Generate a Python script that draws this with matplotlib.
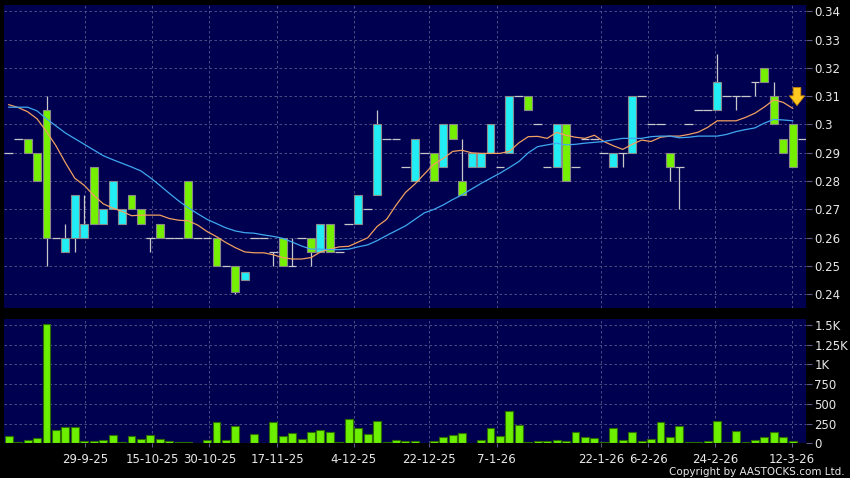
import matplotlib
matplotlib.use('Agg')
import matplotlib.pyplot as plt
import numpy as np

# ---------------- data ----------------
opens = [0.29, 0.295, 0.295, 0.29, 0.305, 0.26, 0.255, 0.26, 0.26, 0.285,
         0.265, 0.27, 0.265, 0.275, 0.27, 0.26, 0.265, 0.26, 0.26, 0.28,
         0.26, 0.26, 0.26, 0.25, 0.25, 0.245, 0.26, 0.26, 0.255, 0.26,
         0.25, 0.26, 0.26, 0.255, 0.265, 0.255, 0.265, 0.265, 0.27, 0.275,
         0.295, 0.295, 0.285, 0.28, 0.29, 0.29, 0.285, 0.30, 0.28, 0.285,
         0.285, 0.29, 0.285, 0.29, 0.31, 0.31, 0.30, 0.285, 0.285, 0.30,
         0.285, 0.295, 0.295, 0.29, 0.285, 0.29, 0.29, 0.31, 0.30, 0.30,
         0.29, 0.285, 0.30, 0.305, 0.305, 0.305, 0.31, 0.31, 0.31, 0.315,
         0.32, 0.31, 0.295, 0.30, 0.295]
highs = [0.29, 0.295, 0.295, 0.29, 0.31, 0.26, 0.265, 0.275, 0.275, 0.285,
         0.27, 0.28, 0.27, 0.275, 0.27, 0.26, 0.265, 0.26, 0.26, 0.28,
         0.26, 0.26, 0.26, 0.25, 0.25, 0.248, 0.26, 0.26, 0.255, 0.26,
         0.26, 0.26, 0.26, 0.265, 0.265, 0.255, 0.265, 0.275, 0.27, 0.305,
         0.295, 0.295, 0.285, 0.295, 0.29, 0.29, 0.30, 0.30, 0.295, 0.29,
         0.29, 0.30, 0.285, 0.31, 0.31, 0.31, 0.30, 0.285, 0.30, 0.30,
         0.285, 0.295, 0.295, 0.29, 0.29, 0.29, 0.31, 0.31, 0.30, 0.30,
         0.29, 0.285, 0.30, 0.305, 0.305, 0.325, 0.31, 0.31, 0.31, 0.315,
         0.32, 0.315, 0.295, 0.30, 0.295]
lows = [0.29, 0.295, 0.29, 0.28, 0.25, 0.26, 0.255, 0.255, 0.26, 0.265,
        0.265, 0.27, 0.265, 0.27, 0.265, 0.255, 0.26, 0.26, 0.26, 0.26,
        0.26, 0.26, 0.25, 0.25, 0.24, 0.245, 0.26, 0.26, 0.25, 0.25,
        0.25, 0.26, 0.25, 0.255, 0.255, 0.255, 0.265, 0.265, 0.27, 0.275,
        0.295, 0.295, 0.285, 0.28, 0.29, 0.28, 0.285, 0.295, 0.275, 0.285,
        0.285, 0.29, 0.285, 0.29, 0.31, 0.305, 0.30, 0.285, 0.285, 0.28,
        0.285, 0.295, 0.295, 0.29, 0.285, 0.285, 0.29, 0.31, 0.30, 0.30,
        0.28, 0.27, 0.30, 0.305, 0.305, 0.305, 0.31, 0.305, 0.31, 0.31,
        0.315, 0.30, 0.29, 0.285, 0.295]
closes = [0.29, 0.295, 0.29, 0.28, 0.26, 0.26, 0.26, 0.275, 0.265, 0.265,
          0.27, 0.28, 0.27, 0.27, 0.265, 0.26, 0.26, 0.26, 0.26, 0.26,
          0.26, 0.26, 0.25, 0.25, 0.241, 0.248, 0.26, 0.26, 0.255, 0.25,
          0.25, 0.26, 0.255, 0.265, 0.255, 0.255, 0.265, 0.275, 0.27, 0.30,
          0.295, 0.295, 0.285, 0.295, 0.29, 0.28, 0.30, 0.295, 0.275, 0.29,
          0.29, 0.30, 0.285, 0.31, 0.31, 0.305, 0.30, 0.285, 0.30, 0.28,
          0.285, 0.295, 0.295, 0.29, 0.29, 0.29, 0.31, 0.31, 0.30, 0.30,
          0.285, 0.285, 0.30, 0.305, 0.305, 0.315, 0.31, 0.31, 0.31, 0.315,
          0.315, 0.30, 0.29, 0.285, 0.295]
volumes = [94, 17, 47, 64, 1510, 171, 209, 205, 30, 30,
           43, 111, 17, 94, 56, 111, 56, 34, 17, 13,
           4, 43, 273, 43, 213, 2, 120, 0, 269, 90,
           132, 60, 145, 167, 137, 17, 307, 192, 120, 286,
           21, 43, 30, 34, 9, 34, 81, 102, 128, 9,
           43, 192, 94, 414, 230, 17, 30, 30, 43, 34,
           145, 85, 73, 21, 196, 43, 141, 30, 51, 273,
           81, 218, 17, 13, 30, 282, 17, 158, 13, 43,
           77, 137, 77, 30, 0]
ma_short = [0.3070, 0.3060, 0.3045, 0.3020, 0.2975, 0.2925, 0.2865, 0.2810, 0.2785, 0.2750,
            0.2720, 0.2705, 0.2693, 0.2678, 0.2680, 0.2680, 0.2680, 0.2668, 0.2662, 0.2660,
            0.2645, 0.2622, 0.2604, 0.2583, 0.2565, 0.2550, 0.2547, 0.2547, 0.2540, 0.2530,
            0.2525, 0.2525, 0.2530, 0.2550, 0.2560, 0.2568, 0.2570, 0.2585, 0.2600, 0.2640,
            0.2665, 0.2715, 0.2760, 0.2790, 0.2825, 0.2860, 0.2880, 0.2905, 0.2909, 0.2900,
            0.2898, 0.2898, 0.2898, 0.2905, 0.2935, 0.2957, 0.2958, 0.2951, 0.2972, 0.2962,
            0.2955, 0.2951, 0.2962, 0.2940, 0.2925, 0.2912, 0.2930, 0.2945, 0.2940, 0.2955,
            0.2959, 0.2959, 0.2965, 0.2973, 0.2990, 0.3013, 0.3013, 0.3013, 0.3025, 0.3040,
            0.3062, 0.3087, 0.3078, 0.3057]
ma_long = [0.3061, 0.3061, 0.3061, 0.3048, 0.3020, 0.2995, 0.2970, 0.2950, 0.2930, 0.2910,
           0.2890, 0.2876, 0.2863, 0.2850, 0.2836, 0.2812, 0.2785, 0.2757, 0.2730, 0.2706,
           0.2685, 0.2665, 0.2650, 0.2635, 0.2624, 0.2618, 0.2616, 0.2610, 0.2605, 0.2598,
           0.2585, 0.2571, 0.2560, 0.2560, 0.2558, 0.2558, 0.2560, 0.2568, 0.2575, 0.2590,
           0.2608, 0.2625, 0.2642, 0.2665, 0.2688, 0.2700, 0.2716, 0.2735, 0.2752, 0.2772,
           0.2792, 0.2810, 0.2828, 0.2848, 0.2869, 0.2900, 0.2922, 0.2928, 0.2934, 0.2928,
           0.2930, 0.2934, 0.2937, 0.2940, 0.2946, 0.2951, 0.2951, 0.2951, 0.2957, 0.2959,
           0.2959, 0.2953, 0.2955, 0.2959, 0.2959, 0.2959, 0.2965, 0.2975, 0.2982, 0.2988,
           0.3005, 0.3018, 0.3016, 0.3013]
date_labels = ["29-9-25", "15-10-25", "30-10-25", "17-11-25", "4-12-25", "22-12-25",
               "7-1-26", "22-1-26", "6-2-26", "24-2-26", "12-3-26"]
date_pos = [8.1, 15.2, 21.25, 28.4, 36.5, 44.5, 51.65, 62.7, 67.7, 74.8, 82.9]
price_ticks = [0.24, 0.25, 0.26, 0.27, 0.28, 0.29, 0.30, 0.31, 0.32, 0.33, 0.34]
price_tick_labels = ["0.24", "0.25", "0.26", "0.27", "0.28", "0.29", "0.3",
                     "0.31", "0.32", "0.33", "0.34"]
vol_ticks = [0, 250, 500, 750, 1000, 1250, 1500]
vol_tick_labels = ["0", "250", "500", "750", "1K", "1.25K", "1.5K"]

# ---------------- style ----------------
BG = '#000000'
PANEL = '#000050'
GRID = '#5a5a8c'
CYAN = '#22ecf4'
GREEN = '#74f000'
EDGE = '#8a8a8a'
WICK = '#c8c8c8'
TXT = '#e8e8e8'

fig = plt.figure(figsize=(8.5, 4.78), dpi=100, facecolor=BG)
ax = fig.add_axes([0.0047, 0.3556, 0.9435, 0.634], facecolor=PANEL)
axv = fig.add_axes([0.0047, 0.0726, 0.9435, 0.2594], facecolor=PANEL, sharex=ax)

n = len(opens)
x = np.arange(n)
o = np.array(opens); h = np.array(highs); l = np.array(lows); c = np.array(closes)

# wicks
body_top = np.maximum(o, c)
body_bot = np.minimum(o, c)
ax.vlines(x, body_top, h, color=WICK, lw=0.9, zorder=2)
ax.vlines(x, l, body_bot, color=WICK, lw=0.9, zorder=2)

# bodies
up = c > o
down = c < o
flat = c == o
ax.bar(x[up], (c - o)[up], bottom=o[up], width=0.84, color=CYAN,
       edgecolor=EDGE, linewidth=0.8, zorder=3)
ax.bar(x[down], (o - c)[down], bottom=c[down], width=0.84, color=GREEN,
       edgecolor=EDGE, linewidth=0.8, zorder=3)
ax.hlines(c[flat], x[flat] - 0.46, x[flat] + 0.46, color=WICK, lw=0.9, zorder=3)

# moving averages
ax.plot(np.arange(len(ma_short)), ma_short, color='#f0a060', lw=0.9, zorder=4)
ax.plot(np.arange(len(ma_long)), ma_long, color='#3fa8f0', lw=0.9, zorder=4)

# arrow marker on the last move
ax.annotate('', xy=(83.45, 0.3057), xytext=(83.45, 0.3140),
            arrowprops=dict(arrowstyle='simple,head_width=1.1,head_length=0.7,tail_width=0.55',
                            fc='#ffc820', ec='#d08a00', lw=0.6), zorder=6)

# volume
axv.bar(x, volumes, width=0.84, color='#6cf000', edgecolor='#2e6e00', linewidth=0.8, zorder=3)

# axes config
for a in (ax, axv):
    a.set_xlim(-0.5, 84.4)
    for s in a.spines.values():
        s.set_visible(False)
    a.yaxis.tick_right()
    a.tick_params(axis='y', colors=GRID, labelcolor=TXT, length=4, width=0.8,
                  labelsize=8.5, pad=2)
    a.set_xticks(date_pos)
    a.grid(True, color=GRID, linestyle=(0, (3, 3)), linewidth=0.6, zorder=0)
    a.set_axisbelow(True)

ax.set_ylim(0.2352, 0.3422)
ax.set_yticks(price_ticks)
ax.set_yticklabels(price_tick_labels)
ax.tick_params(axis='x', length=0, labelbottom=False)

axv.set_ylim(0, 1572)
axv.set_yticks(vol_ticks)
axv.set_yticklabels(vol_tick_labels)
axv.set_xticklabels(date_labels)
axv.tick_params(axis='x', colors=GRID, labelcolor=TXT, length=3, width=0.8,
                labelsize=8.5, pad=4)

fig.text(0.994, 0.003, 'Copyright by AASTOCKS.com Ltd.', color=TXT, fontsize=7.5,
         ha='right', va='bottom')

fig.savefig('out.png', dpi=100, facecolor=BG)
